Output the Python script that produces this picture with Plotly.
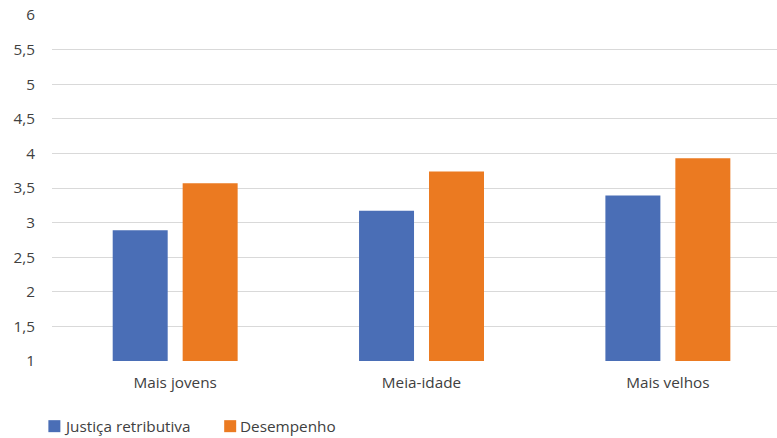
import plotly.graph_objects as go

categories = ["Mais jovens", "Meia-idade", "Mais velhos"]
justica = [2.89, 3.17, 3.39]
desempenho = [3.57, 3.74, 3.93]
y_ticks = [1, 1.5, 2, 2.5, 3, 3.5, 4, 4.5, 5, 5.5, 6]
y_tick_text = [f"{v:g}".replace(".", ",") for v in y_ticks]

series = [
    ("Justiça retributiva", justica, "#4A6EB6"),
    ("Desempenho", desempenho, "#EB7A21"),
]

FONT = "Open Sans"
TEXT = "#404040"
FS = 15.3

fig = go.Figure()
for name, vals, color in series:
    fig.add_trace(go.Bar(
        x=categories, y=vals, name=name,
        marker=dict(color=color, line=dict(width=0)),
        showlegend=False,
    ))

# legend drawn as swatches + labels below the plot
legend_items = [("Justiça retributiva", "#4A6EB6", -0.0050), ("Desempenho", "#EB7A21", 0.2375)]
for label, color, x0 in legend_items:
    fig.add_shape(type="rect", xref="paper", yref="paper",
                  x0=x0, x1=x0 + 12 / 725.3, y0=-0.171, y1=-0.171 - 12 / 346,
                  fillcolor=color, line=dict(width=0))
    fig.add_annotation(xref="paper", yref="paper", x=x0 + 14 / 725.3, y=-0.188,
                       text=label, showarrow=False, xanchor="left", yanchor="middle",
                       font=dict(family=FONT, size=FS, color=TEXT))

fig.update_layout(
    width=777, height=438,
    margin=dict(l=52, r=0, t=15, b=77),
    paper_bgcolor="white", plot_bgcolor="white",
    barmode="group", bargap=0.432, bargroupgap=0.214,
    font=dict(family=FONT, size=FS, color=TEXT),
    xaxis=dict(range=[-0.5, 2.443], showgrid=False, zeroline=False,
               showline=False, ticks="", ticklabelstandoff=11,
               tickfont=dict(size=FS, color=TEXT)),
    yaxis=dict(range=[1, 6], tickvals=y_ticks, ticktext=y_tick_text,
               showgrid=True, gridcolor="#D9D9D9", gridwidth=1,
               zeroline=False, showline=False, ticks="",
               ticklabelstandoff=16, tickfont=dict(size=FS, color=TEXT)),
)

fig.write_html("out.html")
